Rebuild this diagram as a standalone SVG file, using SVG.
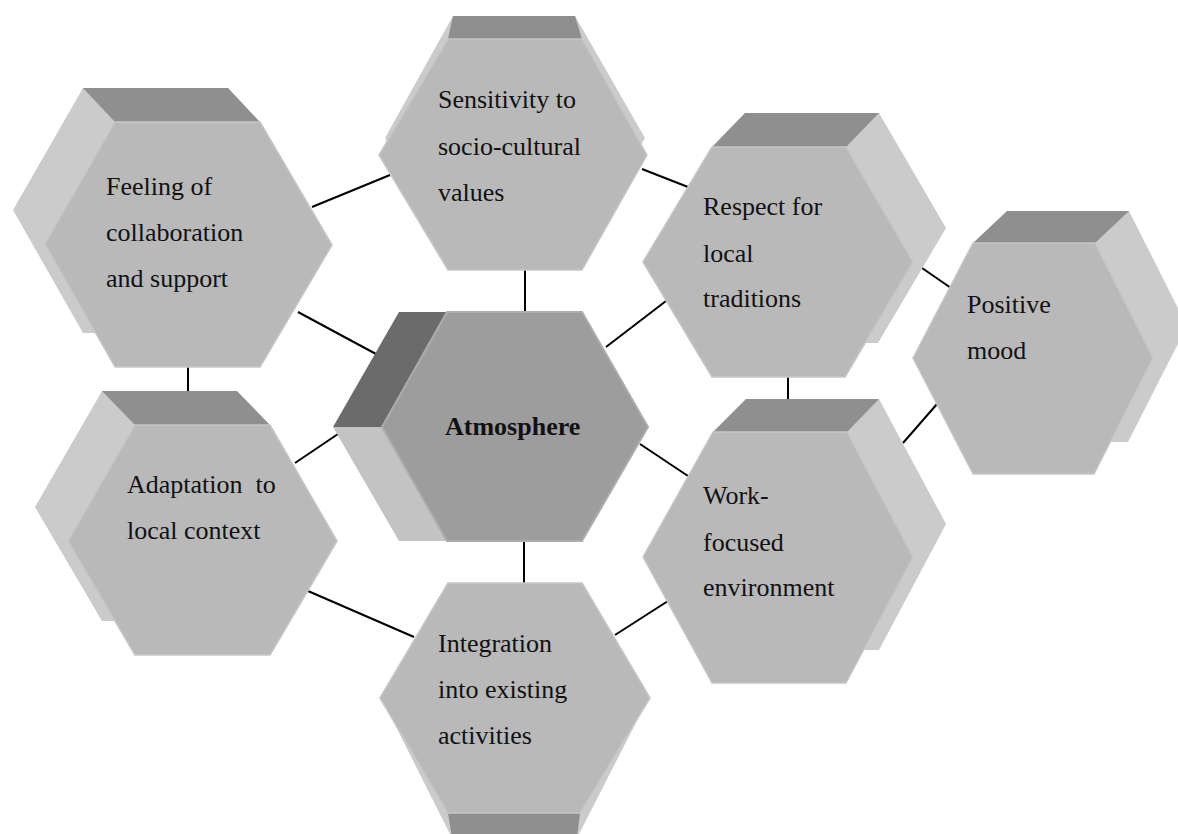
<svg xmlns="http://www.w3.org/2000/svg" width="1178" height="834" viewBox="0 0 1178 834">
  <style>
    .side { fill: #cbcbcb; }
    .top { fill: #8f8f8f; }
    .face { fill: #b9b9b9; stroke: #c6c6c6; stroke-width: 1.5; stroke-linejoin: round; }
    .core-face { fill: #9d9d9d; stroke: #adadad; stroke-width: 2; stroke-linejoin: round; }
    .core-dark { fill: #6b6b6b; }
    .core-light { fill: #c3c3c3; }
    .label { font-family: "Liberation Serif", "Times New Roman", serif; font-size: 26px; fill: #111; white-space: pre; }
    .core-label { font-family: "Liberation Serif", "Times New Roman", serif; font-size: 26px; font-weight: bold; fill: #111; }
    .link { stroke: #000; stroke-width: 2; fill: none; }
  </style>

  <rect width="1178" height="834" fill="#ffffff"/>

  <!-- connectors, drawn beneath the prisms -->
  <g id="connectors">
    <line class="link" x1="312" y1="207" x2="390" y2="175"/>
    <line class="link" x1="298" y1="312" x2="376" y2="354"/>
    <line class="link" x1="188" y1="366" x2="188" y2="392"/>
    <line class="link" x1="525" y1="269" x2="525" y2="313"/>
    <line class="link" x1="642" y1="169" x2="688" y2="187"/>
    <line class="link" x1="606" y1="347" x2="666" y2="301"/>
    <line class="link" x1="295" y1="463" x2="338" y2="434"/>
    <line class="link" x1="640" y1="444" x2="688" y2="476"/>
    <line class="link" x1="524" y1="540" x2="524" y2="584"/>
    <line class="link" x1="308" y1="591" x2="414" y2="637"/>
    <line class="link" x1="615" y1="635" x2="668" y2="601"/>
    <line class="link" x1="788" y1="376" x2="788" y2="401"/>
    <line class="link" x1="922" y1="268" x2="951" y2="288"/>
    <line class="link" x1="903" y1="443" x2="937" y2="404"/>
  </g>

  <!-- Feeling of collaboration and support -->
  <g id="node-collaboration">
    <polygon class="side" points="83,88 228,88 300,211 228,333 83,333 13,210"/>
    <polygon class="top" points="83,88 228,88 260,122 115,122"/>
    <polygon class="face" points="115,122 260,122 332,245 260,367 115,367 45,244"/>
    <text class="label" x="106" y="195">Feeling of</text>
    <text class="label" x="106" y="241">collaboration</text>
    <text class="label" x="106" y="287">and support</text>
  </g>

  <!-- Sensitivity to socio-cultural values -->
  <g id="node-sensitivity">
    <polygon class="side" points="453,16 575,16 645,138 575,255 453,255 385,138"/>
    <polygon class="top" points="453,16 575,16 582,39 448,39"/>
    <polygon class="face" points="448,39 582,39 647,155 582,270 448,270 379,155"/>
    <text class="label" x="438" y="108">Sensitivity to</text>
    <text class="label" x="438" y="155">socio-cultural</text>
    <text class="label" x="438" y="201">values</text>
  </g>

  <!-- Respect for local traditions -->
  <g id="node-traditions">
    <polygon class="side" points="745,113 879,113 946,228 878,343 745,343 676,228"/>
    <polygon class="top" points="712,147 846,147 879,113 745,113"/>
    <polygon class="face" points="712,147 846,147 913,262 845,377 712,377 643,262"/>
    <text class="label" x="703" y="215">Respect for</text>
    <text class="label" x="703" y="262">local</text>
    <text class="label" x="703" y="307">traditions</text>
  </g>

  <!-- Positive mood -->
  <g id="node-mood">
    <polygon class="side" points="1007,211 1129,211 1187,326 1128,442 1007,442 947,326"/>
    <polygon class="top" points="973,243 1095,243 1129,211 1007,211"/>
    <polygon class="face" points="973,243 1095,243 1153,358 1094,474 973,474 913,358"/>
    <text class="label" x="967" y="313">Positive</text>
    <text class="label" x="967" y="359">mood</text>
  </g>

  <!-- Adaptation to local context -->
  <g id="node-adaptation">
    <polygon class="side" points="102,391 237,391 304,507 237,621 102,621 35,507"/>
    <polygon class="top" points="102,391 237,391 270,425 135,425"/>
    <polygon class="face" points="135,425 270,425 337,541 270,655 135,655 68,541"/>
    <text class="label" x="127" y="493">Adaptation  to</text>
    <text class="label" x="127" y="539">local context</text>
  </g>

  <!-- Work-focused environment -->
  <g id="node-work">
    <polygon class="side" points="746,399 879,399 946,524 879,650 745,650 676,524"/>
    <polygon class="top" points="713,432 847,432 879,399 746,399"/>
    <polygon class="face" points="713,432 847,432 913,557 846,683 712,683 643,557"/>
    <text class="label" x="703" y="504">Work-</text>
    <text class="label" x="703" y="551">focused</text>
    <text class="label" x="703" y="596">environment</text>
  </g>

  <!-- Integration into existing activities -->
  <g id="node-integration">
    <polygon class="side" points="452,600 577,600 645,705 577,838 452,838 385,705"/>
    <polygon class="top" points="448,813 580,813 577,838 452,838"/>
    <polygon class="face" points="448,583 582,583 650,698 580,813 448,813 380,698"/>
    <text class="label" x="438" y="652">Integration</text>
    <text class="label" x="438" y="698">into existing</text>
    <text class="label" x="438" y="744">activities</text>
  </g>

  <!-- Atmosphere (central prism) -->
  <g id="node-atmosphere">
    <polygon class="core-dark" points="399,312 447,312 382,427 333,427"/>
    <polygon class="core-light" points="333,427 382,427 447,541 399,541"/>
    <polygon class="core-face" points="447,312 582,312 648,427 582,541 447,541 382,427"/>
    <text class="core-label" x="445" y="435">Atmosphere</text>
  </g>
</svg>
